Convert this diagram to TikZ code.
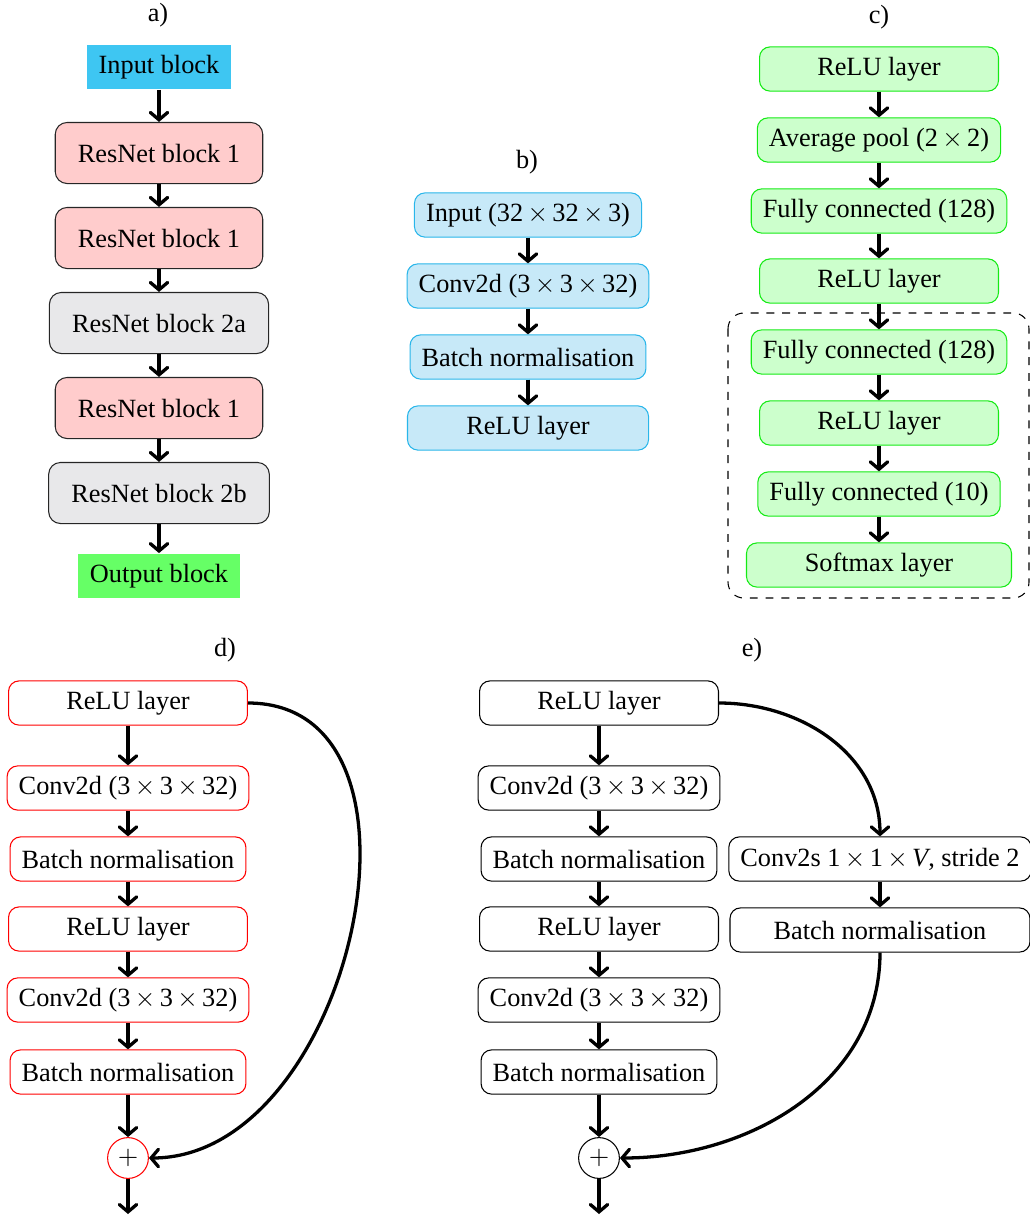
\documentclass[tikz,border=0pt]{standalone}
\usepackage{fontspec}
\setmainfont{Liberation Serif}
\usetikzlibrary{arrows.meta, positioning, calc}

\definecolor{inblue}{RGB}{62,198,242}
\definecolor{resred}{RGB}{255,204,204}
\definecolor{resgray}{RGB}{232,232,234}
\definecolor{outgreen}{RGB}{102,255,102}
\definecolor{stemfill}{RGB}{199,233,248}
\definecolor{stemline}{RGB}{41,182,234}
\definecolor{headfill}{RGB}{204,255,204}
\definecolor{headline}{RGB}{20,235,20}

\newcommand{\by}{\,$\times$\,}

\begin{document}
\begin{tikzpicture}[
  x=0.38pt, y=0.38pt,
  plain/.style={minimum height=17pt, inner xsep=4.4pt},
  block/.style={draw=black!85, rounded corners=4.5pt, minimum height=23.2pt, inner xsep=8.6pt},
  layer/.style={draw, rounded corners=4pt, minimum height=16.8pt, inner xsep=4.4pt, inner ysep=2pt},
  stem/.style={layer, draw=stemline, fill=stemfill},
  head/.style={layer, draw=headline, fill=headfill},
  sum/.style={circle, draw, minimum size=15.5pt, inner sep=0pt},
  flow/.style={-{Straight Barb[length=2.8pt, width=6.6pt, line cap=round]}, line width=1.25pt},
]
\useasboundingbox (0,0) rectangle (1030,-1218);

% a) whole network
\node (la) at (158,-15) {a)};
\node[plain, fill=inblue]   (a0) at (159,-67)  {Input block};
\node[block, fill=resred]   (a1) at (159,-153) {ResNet block 1};
\node[block, fill=resred]   (a2) at (159,-238) {ResNet block 1};
\node[block, fill=resgray]  (a3) at (159,-323) {ResNet block 2a};
\node[block, fill=resred]   (a4) at (159,-408) {ResNet block 1};
\node[block, fill=resgray]  (a5) at (159,-493) {ResNet block 2b};
\node[plain, fill=outgreen] (a6) at (159,-576) {Output block};
\foreach \i [count=\j] in {0,...,5}
  \draw[flow] (a\i) -- (a\j);

% b) input block
\node (lb) at (527,-162) {b)};
\node[stem] (b1) at (528,-215) {Input (32\by32\by3)};
\node[stem] (b2) at (528,-286) {Conv2d (3\by3\by32)};
\node[stem] (b3) at (528,-357) {Batch normalisation};
\node[stem, minimum width=91.6pt] (b4) at (528,-428) {ReLU layer};
\foreach \i [count=\j from 2] in {1,...,3}
  \draw[flow] (b\i) -- (b\j);

% c) output block
\node (lc) at (879,-17) {c)};
\node[head, minimum width=90.8pt]  (c1) at (879,-69)  {ReLU layer};
\node[head]                        (c2) at (879,-140) {Average pool (2\by2)};
\node[head]                        (c3) at (879,-211) {Fully connected (128)};
\node[head, minimum width=90.8pt]  (c4) at (879,-281) {ReLU layer};
\node[head]                        (c5) at (879,-352) {Fully connected (128)};
\node[head, minimum width=90.8pt]  (c6) at (879,-423) {ReLU layer};
\node[head]                        (c7) at (879,-494) {Fully connected (10)};
\node[head, minimum width=100.7pt] (c8) at (879,-565) {Softmax layer};
\foreach \i [count=\j from 2] in {1,...,7}
  \draw[flow] (c\i) -- (c\j);
\draw[dashed, rounded corners=6pt] (728,-313) rectangle (1029,-598);

% d) ResNet block 1
\node (ld) at (225,-650) {d)};
\node[layer, draw=red, minimum width=90.8pt] (d1) at (128,-703)  {ReLU layer};
\node[layer, draw=red]                       (d2) at (128,-788)  {Conv2d (3\by3\by32)};
\node[layer, draw=red]                       (d3) at (128,-859)  {Batch normalisation};
\node[layer, draw=red, minimum width=90.8pt] (d4) at (128,-929)  {ReLU layer};
\node[layer, draw=red]                       (d5) at (128,-1000) {Conv2d (3\by3\by32)};
\node[layer, draw=red]                       (d6) at (128,-1072) {Batch normalisation};
\node[sum, draw=red] (ds) at (128,-1158) {$+$};
\coordinate (dout) at (128,-1214);
\foreach \i [count=\j from 2] in {1,...,5}
  \draw[flow] (d\i) -- (d\j);
\draw[flow] (d6) -- (ds);
\draw[flow] (ds) -- (dout);
\draw[flow] (d1.east) to[out=0, in=0, looseness=1.12] (ds.east);

% e) ResNet block 2
\node (le) at (752,-650) {e)};
\node[layer, minimum width=90.8pt] (e1) at (599,-703)  {ReLU layer};
\node[layer]                       (e2) at (599,-788)  {Conv2d (3\by3\by32)};
\node[layer]                       (e3) at (599,-859)  {Batch normalisation};
\node[layer, minimum width=90.8pt] (e4) at (599,-929)  {ReLU layer};
\node[layer]                       (e5) at (599,-1000) {Conv2d (3\by3\by32)};
\node[layer]                       (e6) at (599,-1072) {Batch normalisation};
\node[sum] (es) at (599,-1158) {$+$};
\coordinate (eout) at (599,-1214);
\node[layer, minimum width=114pt]  (e7) at (880,-859) {Conv2s 1\by1\by\textit{V}, stride 2};
\node[layer, minimum width=114pt]  (e8) at (880,-930) {Batch normalisation};
\foreach \i [count=\j from 2] in {1,...,5}
  \draw[flow] (e\i) -- (e\j);
\draw[flow] (e6) -- (es);
\draw[flow] (es) -- (eout);
\draw[flow] (e7) -- (e8);
\draw[flow] (e1.east) to[out=0, in=90] (e7.north);
\draw[flow] (e8.south) to[out=-90, in=0] (es.east);
\end{tikzpicture}
\end{document}
